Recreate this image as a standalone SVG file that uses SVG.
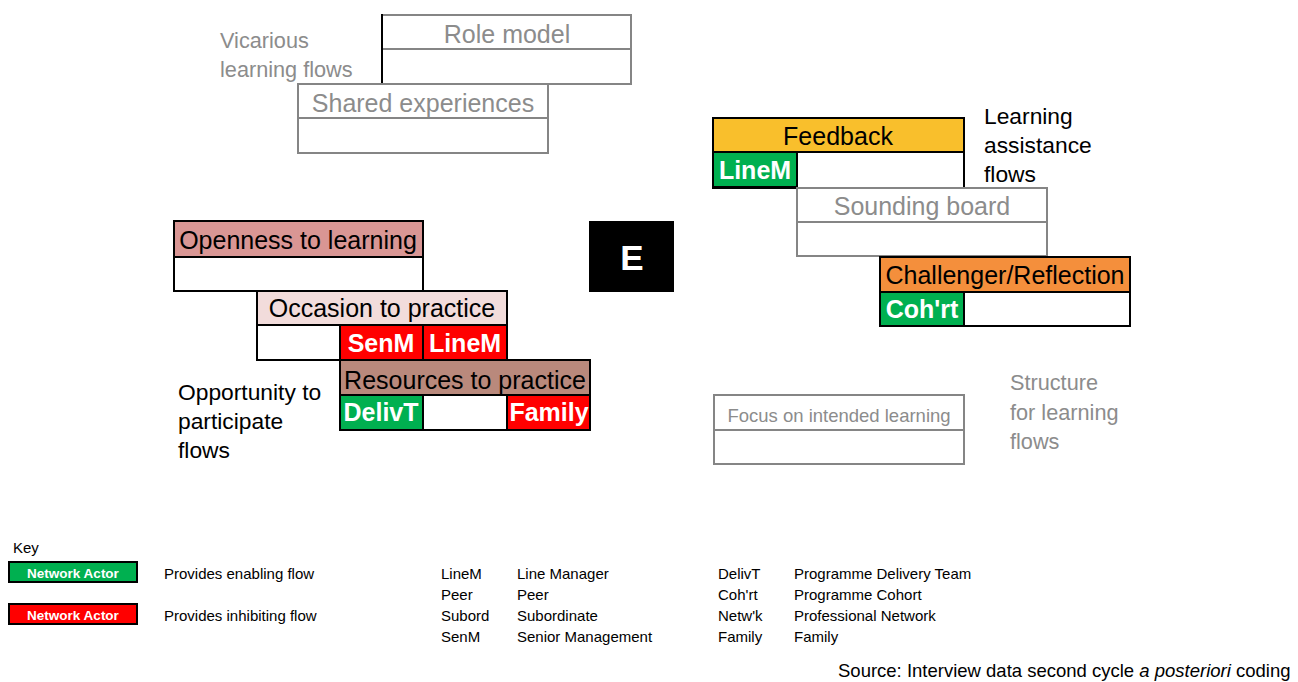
<svg xmlns="http://www.w3.org/2000/svg" width="1298" height="682" viewBox="0 0 1298 682">
  <style>
    text { font-family: "Liberation Sans", Arial, sans-serif; }
    .box { fill: #ffffff; stroke: #000000; stroke-width: 2; }
    .gbox { fill: #ffffff; stroke: #858585; stroke-width: 2; }
    .div { stroke: #000000; stroke-width: 2; }
    .gdiv { stroke: #858585; stroke-width: 2; }
    .hdr { font-size: 25px; fill: #000000; text-anchor: middle; }
    .ghdr { font-size: 25px; fill: #8c8c8c; text-anchor: middle; }
    .cell { font-size: 25px; font-weight: bold; fill: #ffffff; text-anchor: middle; }
    .side { font-size: 22.8px; fill: #000000; }
    .gside { font-size: 21.7px; fill: #8c8c8c; }
    .green { fill: #00b050; stroke: #000000; stroke-width: 2; }
    .red { fill: #ff0000; stroke: #000000; stroke-width: 2; }
    .key { font-size: 15px; fill: #000000; }
    .keytag { font-size: 13.5px; font-weight: bold; fill: #ffffff; text-anchor: middle; }
  </style>

  <!-- Vicarious learning flows -->
  <g id="label-vicarious">
    <text class="gside" x="220" y="48">Vicarious</text>
    <text class="gside" x="220" y="77">learning flows</text>
  </g>
  <g id="role-model">
    <rect class="gbox" x="382" y="15" width="249" height="69"/>
    <line class="gdiv" x1="382" y1="49" x2="631" y2="49"/>
    <line class="div" x1="382" y1="14" x2="382" y2="84"/>
    <text class="ghdr" x="507" y="43">Role model</text>
  </g>
  <g id="shared-experiences">
    <rect class="gbox" x="298" y="84" width="250" height="69"/>
    <line class="gdiv" x1="298" y1="118" x2="548" y2="118"/>
    <text class="ghdr" x="423" y="112">Shared experiences</text>
  </g>

  <!-- Opportunity to participate flows -->
  <g id="openness">
    <rect class="box" x="174" y="221" width="249" height="70"/>
    <rect x="174" y="221" width="249" height="36" fill="#d99694" stroke="#000" stroke-width="2"/>
    <text class="hdr" x="298" y="249">Openness to learning</text>
  </g>
  <g id="occasion">
    <rect class="box" x="257" y="291" width="250" height="69"/>
    <rect x="257" y="291" width="250" height="34" fill="#f2dcdb" stroke="#000" stroke-width="2"/>
    <rect class="red" x="340" y="325" width="83" height="35"/>
    <rect class="red" x="423" y="325" width="84" height="35"/>
    <text class="hdr" x="382" y="317">Occasion to practice</text>
    <text class="cell" x="381" y="352">SenM</text>
    <text class="cell" x="465" y="352">LineM</text>
  </g>
  <g id="resources">
    <rect class="box" x="340" y="360" width="250" height="70"/>
    <rect x="340" y="360" width="250" height="35" fill="#b9897c" stroke="#000" stroke-width="2"/>
    <rect class="green" x="340" y="395" width="83" height="35"/>
    <rect class="red" x="507" y="395" width="83" height="35"/>
    <line class="div" x1="423" y1="395" x2="423" y2="430"/>
    <text class="hdr" x="465" y="389">Resources to practice</text>
    <text class="cell" x="381" y="421">DelivT</text>
    <text class="cell" x="549" y="421">Family</text>
  </g>
  <g id="label-opportunity">
    <text class="side" x="178" y="400">Opportunity to</text>
    <text class="side" x="178" y="429">participate</text>
    <text class="side" x="178" y="458">flows</text>
  </g>

  <!-- Centre -->
  <g id="centre-e">
    <rect x="589" y="221" width="85" height="71" fill="#000000"/>
    <text x="632" y="270" font-size="35" font-weight="bold" fill="#ffffff" text-anchor="middle">E</text>
  </g>

  <!-- Learning assistance flows -->
  <g id="feedback">
    <rect class="box" x="713" y="118" width="251" height="70"/>
    <rect x="713" y="118" width="251" height="34" fill="#f9bf2c" stroke="#000" stroke-width="2"/>
    <rect class="green" x="713" y="152" width="84" height="35"/>
    <text class="hdr" x="838" y="145">Feedback</text>
    <text class="cell" x="755" y="179">LineM</text>
  </g>
  <g id="label-assistance">
    <text class="side" x="984" y="124">Learning</text>
    <text class="side" x="984" y="153">assistance</text>
    <text class="side" x="984" y="182">flows</text>
  </g>
  <g id="sounding-board">
    <rect class="gbox" x="797" y="188" width="250" height="68"/>
    <line class="gdiv" x1="797" y1="222" x2="1047" y2="222"/>
    <text class="ghdr" x="922" y="215">Sounding board</text>
  </g>
  <g id="challenger">
    <rect class="box" x="880" y="257" width="250" height="69"/>
    <rect x="880" y="257" width="250" height="35" fill="#f48f3c" stroke="#000" stroke-width="2"/>
    <rect class="green" x="880" y="292" width="84" height="34"/>
    <text class="hdr" x="1005" y="284">Challenger/Reflection</text>
    <text class="cell" x="922" y="318">Coh'rt</text>
  </g>

  <!-- Structure for learning flows -->
  <g id="focus">
    <rect class="gbox" x="714" y="395" width="250" height="69"/>
    <line class="gdiv" x1="714" y1="430" x2="964" y2="430"/>
    <text x="839" y="422" font-size="18.5" fill="#8c8c8c" text-anchor="middle">Focus on intended learning</text>
  </g>
  <g id="label-structure">
    <text class="gside" x="1010" y="390">Structure</text>
    <text class="gside" x="1010" y="420">for learning</text>
    <text class="gside" x="1010" y="449">flows</text>
  </g>

  <!-- Key -->
  <g id="key">
    <text class="key" x="13" y="553" font-size="14">Key</text>
    <rect class="green" x="9" y="562" width="128" height="20"/>
    <text class="keytag" x="73" y="578">Network Actor</text>
    <rect class="red" x="9" y="604" width="128" height="20"/>
    <text class="keytag" x="73" y="620">Network Actor</text>
    <text class="key" x="164" y="579">Provides enabling flow</text>
    <text class="key" x="164" y="621">Provides inhibiting flow</text>

    <text class="key" x="441" y="579">LineM</text>
    <text class="key" x="517" y="579">Line Manager</text>
    <text class="key" x="441" y="600">Peer</text>
    <text class="key" x="517" y="600">Peer</text>
    <text class="key" x="441" y="621">Subord</text>
    <text class="key" x="517" y="621">Subordinate</text>
    <text class="key" x="441" y="642">SenM</text>
    <text class="key" x="517" y="642">Senior Management</text>

    <text class="key" x="718" y="579">DelivT</text>
    <text class="key" x="794" y="579">Programme Delivery Team</text>
    <text class="key" x="718" y="600">Coh'rt</text>
    <text class="key" x="794" y="600">Programme Cohort</text>
    <text class="key" x="718" y="621">Netw'k</text>
    <text class="key" x="794" y="621">Professional Network</text>
    <text class="key" x="718" y="642">Family</text>
    <text class="key" x="794" y="642">Family</text>
  </g>

  <text x="838" y="677" font-size="18.5" fill="#000000">Source: Interview data second cycle <tspan font-style="italic">a posteriori</tspan> coding</text>
</svg>
